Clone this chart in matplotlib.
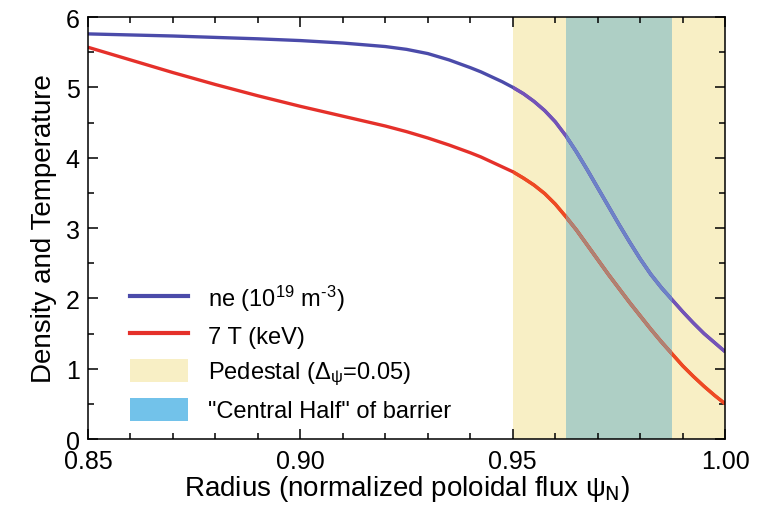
import matplotlib
matplotlib.use("Agg")
import matplotlib.pyplot as plt
from matplotlib.lines import Line2D
from matplotlib.patches import Patch, Rectangle

plt.rcParams['font.family'] = ['Liberation Sans', 'DejaVu Sans']
plt.rcParams['mathtext.fontset'] = 'custom'
plt.rcParams['mathtext.rm'] = 'Liberation Sans'
plt.rcParams['mathtext.it'] = 'Liberation Sans'
plt.rcParams['mathtext.bf'] = 'Liberation Sans'

# ---- data ----
psi = [0.85, 0.86, 0.87, 0.88, 0.89, 0.90, 0.91, 0.92, 0.925, 0.93, 0.935,
       0.94, 0.9425, 0.945, 0.9475, 0.95, 0.9525, 0.955, 0.9575, 0.96, 0.9625,
       0.965, 0.9675, 0.97, 0.9725, 0.975, 0.9775, 0.98, 0.9825, 0.985, 0.9875,
       0.99, 0.9925, 0.995, 0.9975, 1.00]
ne = [5.76, 5.745, 5.73, 5.71, 5.69, 5.665, 5.63, 5.58, 5.54, 5.48, 5.39,
      5.28, 5.22, 5.15, 5.08, 5.00, 4.91, 4.80, 4.67, 4.51, 4.31,
      4.08, 3.83, 3.57, 3.31, 3.05, 2.80, 2.56, 2.34, 2.15, 1.98,
      1.81, 1.65, 1.50, 1.37, 1.24]
te7 = [5.57, 5.39, 5.21, 5.04, 4.88, 4.73, 4.59, 4.45, 4.37, 4.28, 4.18,
       4.07, 4.01, 3.94, 3.87, 3.80, 3.71, 3.61, 3.49, 3.34, 3.16,
       2.97, 2.76, 2.55, 2.34, 2.14, 1.94, 1.75, 1.56, 1.38, 1.21,
       1.04, 0.89, 0.75, 0.62, 0.50]
pedestal = (0.95, 1.00)
central = (0.9625, 0.9875)
labels = [r"ne (10$^{19}$ m$^{\text{-3}}$)", "7 T (keV)",
          r"Pedestal ($\Delta_{\psi}$=0.05)", '"Central Half" of barrier']
xticks = [0.85, 0.90, 0.95, 1.00]
xticklabels = ["0.85", "0.90", "0.95", "1.00"]
yticks = [0, 1, 2, 3, 4, 5, 6]

# ---- colours ----
c_ne = ["#4B4BAA", "#7452B8", "#6C82C8"]   # outside, pedestal, central
c_te = ["#E5302A", "#EE4A22", "#AD8274"]
c_ped = "#F8EFC5"
c_cen_band = "#AECFC5"
c_cen_leg = "#72C2EA"

fig = plt.figure(figsize=(7.65, 5.06), dpi=100)
ax = fig.add_axes([0.115, 0.1304, 0.833, 0.834])

ax.axvspan(*pedestal, color=c_ped, lw=0, zorder=0)
ax.axvspan(*central, color=c_cen_band, lw=0, zorder=0.5)

def clipped_plot(y, colors):
    ax.plot(psi, y, color=colors[0], lw=2.4, zorder=2, solid_capstyle='butt')
    for (x0, x1), c, z in [(pedestal, colors[1], 2.2), (central, colors[2], 2.4)]:
        ln, = ax.plot(psi, y, color=c, lw=2.4, zorder=z, solid_capstyle='butt')
        r = Rectangle((x0, -1), x1 - x0, 10, transform=ax.transData)
        ln.set_clip_path(r)

clipped_plot(ne, c_ne)
clipped_plot(te7, c_te)

ax.set_xlim(0.85, 1.00)
ax.set_ylim(0, 6)
ax.set_xticks(xticks)
ax.set_xticklabels(xticklabels)
ax.set_yticks(yticks)
ax.set_xticks([0.85 + 0.01 * i for i in range(16)], minor=True)
ax.set_yticks([0.5 * i for i in range(13)], minor=True)
ax.tick_params(which='both', direction='in', top=True, right=True, labelsize=18, width=1.1)
ax.tick_params(which='major', length=7)
ax.tick_params(axis='x', which='major', pad=7)
ax.tick_params(axis='y', which='major', pad=6)
ax.tick_params(which='minor', length=4)
for s in ax.spines.values():
    s.set_linewidth(1.1)

ax.set_xlabel(r"Radius (normalized poloidal flux $\psi_{\mathsf{N}}$)", fontsize=20, labelpad=0)
ax.set_ylabel("Density and Temperature", fontsize=20, labelpad=6)

handles = [Line2D([], [], color=c_ne[0], lw=3),
           Line2D([], [], color=c_te[0], lw=3),
           Patch(facecolor=c_ped, edgecolor='none'),
           Patch(facecolor=c_cen_leg, edgecolor='none')]
leg = ax.legend(handles, labels, loc='lower left', bbox_to_anchor=(0.04, 0.0),
                frameon=False, fontsize=17, handlelength=2.45, handleheight=1.15,
                labelspacing=0.45, handletextpad=0.85, borderaxespad=0.3)

fig.savefig("out.png", dpi=100)
